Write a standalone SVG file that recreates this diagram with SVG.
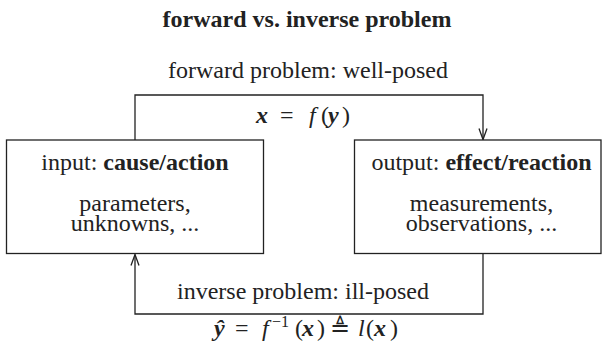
<svg xmlns="http://www.w3.org/2000/svg" width="606" height="351" viewBox="0 0 606 351">
  <style>
    text { font-family: "Liberation Serif", "DejaVu Serif", serif; font-size: 24px; fill: #222; text-anchor: middle; }
    .m { text-anchor: start; }
    .b { font-weight: bold; }
    .bi { font-weight: bold; font-style: italic; }
    .i { font-style: italic; }
    .sup { font-size: 16px; }
    .box { fill: #fff; stroke: #222; stroke-width: 1.3; }
    .conn { fill: none; stroke: #222; stroke-width: 1.3; }
  </style>
  <defs>
    <marker id="arr" markerUnits="userSpaceOnUse" markerWidth="14" markerHeight="12" viewBox="-12 -6 14 12" refX="0" refY="0" orient="auto">
      <path d="M-11,-4 L0,0 L-11,4" fill="none" stroke="#222" stroke-width="1.3"/>
    </marker>
  </defs>
  <rect width="606" height="351" fill="#fff"/>

  <text id="title" class="b" x="307" y="27">forward vs. inverse problem</text>

  <g id="connectors">
    <path id="forward" class="conn" d="M135,140 V95 H483 V139.5" marker-end="url(#arr)"/>
    <path id="inverse" class="conn" d="M483,253.5 V314 H135 V254.5" marker-end="url(#arr)"/>
    <text x="308" y="78">forward problem: well-posed</text>
    <text class="m" y="123"><tspan class="bi" x="256">x</tspan><tspan x="280">=</tspan><tspan class="i" x="309">f</tspan><tspan x="321">(</tspan><tspan class="bi" x="328">y</tspan><tspan x="342">)</tspan></text>
    <text x="303" y="299">inverse problem: ill-posed</text>
    <text class="m" y="336"><tspan class="bi" x="214">y&#x302;</tspan><tspan x="235">=</tspan><tspan class="i" x="262">f</tspan><tspan class="sup" x="272" dy="-9">−1</tspan><tspan x="295" dy="9">(</tspan><tspan class="bi" x="302">x</tspan><tspan x="317">)</tspan><tspan x="330">≜</tspan><tspan class="i" x="358">l</tspan><tspan x="366">(</tspan><tspan class="bi" x="374">x</tspan><tspan x="390">)</tspan></text>
  </g>

  <g id="input">
    <rect class="box" x="6.5" y="140" width="257" height="113.5"/>
    <text x="135" y="169.5">input: <tspan class="b">cause/action</tspan></text>
    <text x="135" y="210.5">parameters,<tspan x="135" dy="20.5">unknowns, ...</tspan></text>
  </g>

  <g id="output">
    <rect class="box" x="354.5" y="140" width="246.5" height="113.5"/>
    <text x="481.5" y="169.5">output: <tspan class="b">effect/reaction</tspan></text>
    <text x="481.5" y="210.5">measurements,<tspan x="481.5" dy="20.5">observations, ...</tspan></text>
  </g>
</svg>
